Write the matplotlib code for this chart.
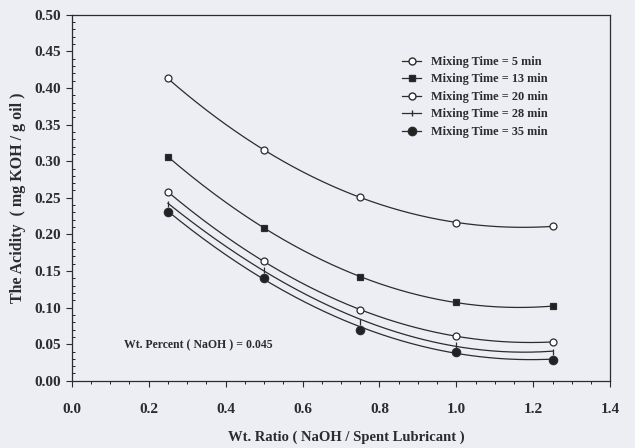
import matplotlib
matplotlib.use("Agg")
import matplotlib.pyplot as plt
import numpy as np
from matplotlib.ticker import MultipleLocator

plt.rcParams["font.family"] = ["Liberation Serif", "DejaVu Serif"]

wt_ratio = [0.25, 0.50, 0.75, 1.00, 1.25]
acid_5 = [0.413, 0.315, 0.251, 0.216, 0.211]
acid_13 = [0.306, 0.209, 0.142, 0.107, 0.102]
acid_20 = [0.258, 0.163, 0.097, 0.061, 0.053]
acid_28 = [0.242, 0.152, 0.081, 0.049, 0.040]
acid_35 = [0.231, 0.141, 0.070, 0.040, 0.029]
labels = ["Mixing Time = 5 min", "Mixing Time = 13 min", "Mixing Time = 20 min",
          "Mixing Time = 28 min", "Mixing Time = 35 min"]
x_ticks = [0.0, 0.2, 0.4, 0.6, 0.8, 1.0, 1.2, 1.4]
y_ticks = [0.00, 0.05, 0.10, 0.15, 0.20, 0.25, 0.30, 0.35, 0.40, 0.45, 0.50]

series = [
    (acid_5, dict(marker="o", mfc="white", ms=5)),
    (acid_13, dict(marker="s", mfc="#222222", ms=5)),
    (acid_20, dict(marker="o", mfc="white", ms=5)),
    (acid_28, dict(marker="|", mfc="#222222", ms=5)),
    (acid_35, dict(marker="o", mfc="#222222", ms=6)),
]

ink = "#2b2b30"
paper = "#eceef4"

fig = plt.figure(figsize=(6.35, 4.48), dpi=100, facecolor=paper)
ax = fig.add_axes([0.113, 0.150, 0.848, 0.817], facecolor=paper)

xs = np.array(wt_ratio)
xfine = np.linspace(xs.min(), xs.max(), 200)
for (ys, style), lab in zip(series, labels):
    # smooth curve through the measured points
    coef = np.polyfit(xs, ys, 3)
    ax.plot(xfine, np.polyval(coef, xfine), color=ink, lw=0.9)
    ax.plot(xs, ys, ls="none", color=ink, mec=ink, mew=0.9, **style)
    ax.plot([], [], color=ink, lw=0.9, mec=ink, label=lab, **style)

ax.set_xlim(0.0, 1.4)
ax.set_ylim(0.0, 0.5)
ax.set_xticks(x_ticks)
ax.set_xticklabels([f"{v:.1f}" for v in x_ticks])
ax.set_yticks(y_ticks)
ax.set_yticklabels([f"{v:.2f}" for v in y_ticks])
ax.xaxis.set_minor_locator(MultipleLocator(0.05))
ax.yaxis.set_minor_locator(MultipleLocator(0.01))
ax.tick_params(axis="both", colors=ink, labelsize=11, direction="out", length=4, width=0.8)
ax.tick_params(axis="x", which="major", pad=12)
ax.tick_params(axis="x", which="minor", length=2, width=0.6)
ax.tick_params(axis="y", which="minor", direction="in", length=2, width=0.6)
for lbl in ax.get_xticklabels() + ax.get_yticklabels():
    lbl.set_fontweight("bold")
for sp in ax.spines.values():
    sp.set_color(ink)
    sp.set_linewidth(0.9)

ax.set_xlabel("Wt. Ratio ( NaOH / Spent Lubricant )", fontsize=10.5, color=ink,
              fontweight="bold", labelpad=12)
ax.xaxis.set_label_coords(0.51, -0.135)
ax.set_ylabel("The Acidity  ( mg KOH / g oil )", fontsize=11.5, color=ink,
              fontweight="bold", labelpad=6)

ax.text(0.135, 0.049, "Wt. Percent ( NaOH ) = 0.045", fontsize=8.5, color=ink,
        fontweight="bold", va="center")

leg = ax.legend(loc="upper right", bbox_to_anchor=(0.905, 0.918), frameon=False,
                prop=dict(size=8.8, weight="bold"), handlelength=1.6,
                labelspacing=0.45, labelcolor=ink)

fig.savefig("out.png", dpi=100, facecolor=paper)
